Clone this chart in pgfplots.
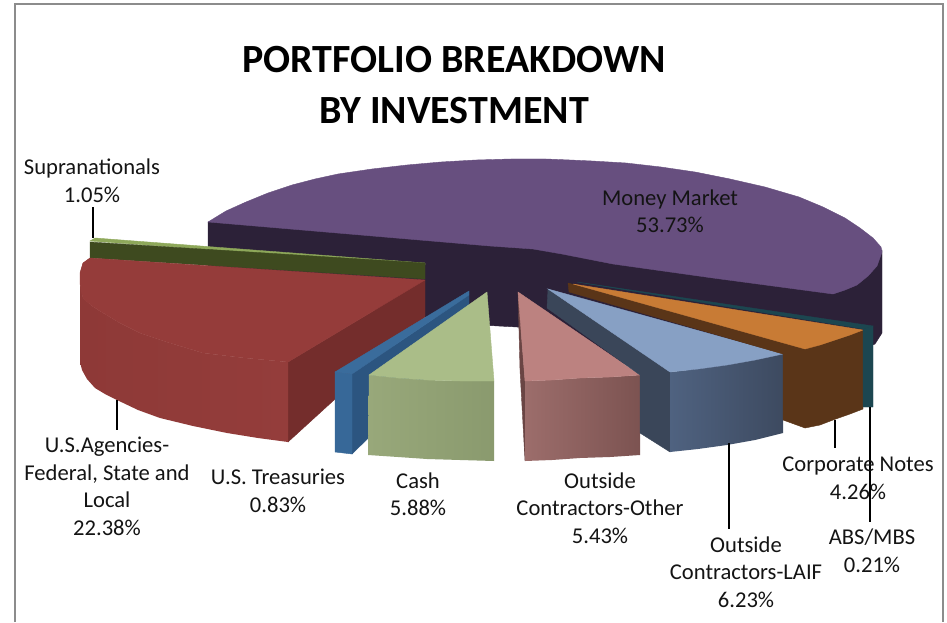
\documentclass[border=0pt]{standalone}
\usepackage{pgfplots}
\pgfplotsset{compat=1.18}
\usepackage{fontspec}
\setmainfont{Carlito}
\definecolor{purT}{HTML}{674F7F}
\definecolor{purS}{HTML}{2C2138}
\definecolor{redT}{HTML}{953C3A}
\definecolor{redR}{HTML}{943D3B}
\definecolor{redRd}{HTML}{8E3937}
\definecolor{redS}{HTML}{742D2C}
\definecolor{grnT}{HTML}{8EA85A}
\definecolor{grnS}{HTML}{3E4A1F}
\definecolor{bluT}{HTML}{3A6C9C}
\definecolor{bluR}{HTML}{376898}
\definecolor{bluS}{HTML}{2C5580}
\definecolor{cshT}{HTML}{AABD88}
\definecolor{cshL}{HTML}{98A87A}
\definecolor{cshD}{HTML}{8A9A6E}
\definecolor{pnkT}{HTML}{BC8280}
\definecolor{pnkL}{HTML}{9C6D6B}
\definecolor{pnkD}{HTML}{7C5351}
\definecolor{pnkS}{HTML}{6A4544}
\definecolor{lafT}{HTML}{87A0C4}
\definecolor{lafL}{HTML}{4F6280}
\definecolor{lafD}{HTML}{3D4A60}
\definecolor{lafS}{HTML}{3A4659}
\definecolor{orgT}{HTML}{C87B35}
\definecolor{orgS}{HTML}{5A3518}
\definecolor{teal2}{HTML}{1C4650}
\newcommand{\poly}[2]{\addplot[fill=#1,draw=#1,line width=.4pt,no markers] coordinates {#2} -- cycle;}
\newcommand{\grad}[3]{\addplot[left color=#1,right color=#2,draw=none,no markers] coordinates {#3} -- cycle;}
\newcommand{\lead}[4]{\addplot[black,line width=1.1pt,no markers] coordinates {(#1,#2) (#3,#4)};}
\newcommand{\lab}[3]{\node[anchor=base,font=\fontsize{22.6}{26}\selectfont,text=black!92,inner sep=0pt] at (axis cs:#1,#2) {#3};}
\begin{document}
\begin{tikzpicture}
\begin{axis}[
  scale only axis, width=947pt, height=622pt,
  xmin=0, xmax=947, ymin=0, ymax=622, y dir=reverse,
  hide axis, clip=false]
% page
\addplot[fill=white,draw=none,no markers] coordinates {(0,0) (947,0) (947,622) (0,622)} -- cycle;
\addplot[color=black!45,line width=1.5pt,no markers] coordinates {(15,622) (15,4) (943,4) (943,622)};
% Money Market side
\poly{purS}{(208,222) (500,215) (833,280) (882,250) (882,333) (875,344) (863,349) (800,370) (640,370) (540,330) (517,327) (480,325) (425,317) (300,300) (208,290)}
% Money Market top
\poly{purT}{(208,222) (226,211) (246,202) (268,193) (292,185) (315,179) (338,174) (372,169) (407,165) (441,162) (476,160) (511,159) (546,159) (570,160) (592,161) (626,163) (661,167) (695,172) (730,179) (765,187) (799,197) (823,207) (845,218) (860,228) (873,238) (881,247) (882,252) (877,266) (868,276) (857,285) (845,290) (833,294) (713,278) (613,264) (562,254) (533,249) (490,246)}
% Supranationals
\poly{grnT}{(90,241) (95,238) (425,263) (425,265)}
\poly{grnS}{(90,242) (425,263) (425,279) (90,258)}
% Agencies
\poly{redS}{(288,362) (425,280) (425,317) (288,442)}
\grad{redRd}{redR}{(90,258) (83,263) (80,273) (80,362) (82,370) (87,379) (95,388) (105,394) (117,400) (138,410) (160,418) (193,426) (227,433) (258,438) (288,442) (288,362) (245,358) (203,353) (170,343) (140,333) (120,323) (103,313) (92,306) (83,298) (80,283)}
\poly{redT}{(90,258) (425,280) (288,362) (245,358) (203,353) (170,343) (140,333) (120,323) (103,313) (92,306) (86,301) (83,298) (81,291) (80,283) (80,273) (83,263)}
% Treasuries
\poly{bluS}{(352,374) (469,295) (469,340) (352,454)}
\poly{bluR}{(335,372) (352,374) (352,454) (335,452)}
\poly{bluT}{(335,372) (469,291) (469,295) (352,374)}
% Cash
\grad{cshL}{cshD}{(369,375) (398,378) (427,380) (460,381) (494,381) (494,461) (460,460) (427,459) (398,457) (368,455)}
\poly{cshT}{(487,292) (494,381) (460,381) (427,380) (398,378) (369,375)}
% Outside contractors other
\poly{pnkS}{(518,292) (525,381) (525,461) (520,370)}
\grad{pnkL}{pnkD}{(525,381) (552,380) (580,378) (610,377) (640,375) (640,455) (610,457) (580,458) (552,460) (525,461)}
\poly{pnkT}{(518,292) (640,375) (610,377) (580,378) (552,380) (525,381)}
% LAIF
\poly{lafS}{(548,289) (670,372) (670,452) (640,433) (640,375) (547,308)}
\grad{lafL}{lafD}{(670,372) (698,369) (727,365) (755,360) (783,354) (783,433) (755,440) (727,445) (698,449) (670,452)}
\poly{lafT}{(548,289) (783,354) (755,360) (727,365) (698,369) (670,372)}
% Corporate notes
\poly{orgS}{(568,283) (805,349) (805,428) (783,420) (783,354) (569,292)}
\poly{orgS}{(805,349) (820,345) (835,340) (850,335) (863,330) (863,409) (850,414) (833,420) (820,425) (805,428)}
\poly{orgT}{(573,284) (863,330) (850,335) (835,340) (820,345) (805,349)}
% ABS/MBS
\poly{teal2}{(577,282) (873,326) (863,329)}
\poly{teal2}{(863,329) (873,326) (873,407) (863,407)}
% leaders
\lead{93}{207}{93}{238}
\lead{117}{400}{117}{430}
\lead{729}{443}{729}{529}
\lead{835}{420}{835}{448}
\lead{870}{407}{870}{522}
% title
\node[anchor=base,font=\fontsize{40}{44}\selectfont\bfseries,inner sep=0pt] at (axis cs:454,72.5) {PORTFOLIO BREAKDOWN};
\node[anchor=base,font=\fontsize{40}{44}\selectfont\bfseries,inner sep=0pt] at (axis cs:454,123.5) {BY INVESTMENT};
% labels
\lab{92}{175}{Supranationals}
\lab{92}{203}{1.05\%}
\lab{670}{205}{Money Market}
\lab{670}{232}{53.73\%}
\lab{107}{452}{U.S.Agencies-}
\lab{107}{480}{Federal, State and}
\lab{107}{507}{Local}
\lab{107}{535}{22.38\%}
\lab{278}{484}{U.S. Treasuries}
\lab{278}{512}{0.83\%}
\lab{418}{488}{Cash}
\lab{418}{515}{5.88\%}
\lab{600}{488}{Outside}
\lab{600}{515}{Contractors-Other}
\lab{600}{543}{5.43\%}
\lab{746}{552}{Outside}
\lab{746}{579}{Contractors-LAIF}
\lab{746}{607}{6.23\%}
\lab{858}{471}{Corporate Notes}
\lab{858}{499}{4.26\%}
\lab{872}{544}{ABS/MBS}
\lab{872}{572}{0.21\%}
\end{axis}
\end{tikzpicture}
\end{document}
